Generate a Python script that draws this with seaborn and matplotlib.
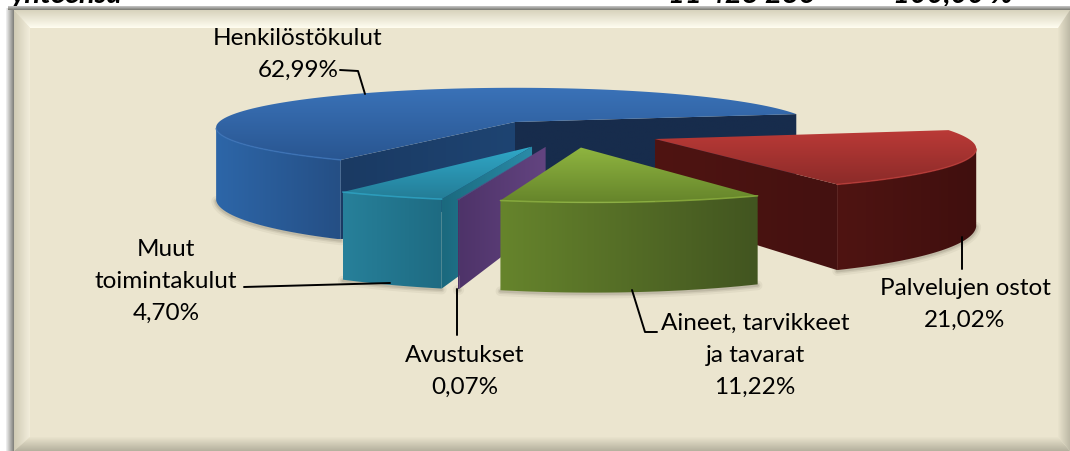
import numpy as np
import seaborn as sns
import matplotlib.pyplot as plt
from matplotlib.patches import Polygon

# data
categories = ['Henkilöstökulut', 'Palvelujen ostot', 'Aineet, tarvikkeet\nja tavarat', 'Avustukset', 'Muut\ntoimintakulut']
shares = [62.99, 21.02, 11.22, 0.07, 4.70]

# explode offsets on the pie plane (radius units)
explode = [(0, 0), (0.445, -0.411), (0.204, -0.60), (0.095, -0.585), (0.0529, -0.58)]
top_cols = [('#3a72b8', '#295691'), ('#bb3a37', '#8c2b29'), ('#8fb540', '#66852b'), ('#5f427f', '#5f427f'), ('#30a8c8', '#247d97')]
side_cols = [('#2d66a8', '#254f85'), ('#4f1412', '#400f0e'), ('#66842c', '#425520'), ('#4c3266', '#4c3266'), ('#27809a', '#1e6b82')]
wall_begin = [('#1a3a63', '#1e4472'), ('#4f1412', '#441110'), ('#66842c', '#66842c'), ('#4e3369', '#634480'), ('#1b697e', '#2a8ba8')]
wall_end = [('#172c4c', '#172c4c'), ('#4f1412', '#441110'), ('#66842c', '#66842c'), ('#4e3369', '#634480'), ('#1b697e', '#2a8ba8')]

label_pos = [(298, 28), (965, 278), (755, 313), (465, 345), (166, 239)]
leaders = [([340, 358, 365], [71, 72, 95]), ([962, 962], [238, 270]), ([632, 645, 657], [291, 333, 333]),
           ([457, 457], [290, 336]), ([244, 390], [288, 284])]

CX, CY, R, K, P, H = 515, 123, 296, 39, 0.14, 70
START = 238.8

def project(u, v):
    s = 1 / (1 + P * v)
    return CX + R * u * s, CY - K * v * s, H * s

def gfill(ax, xs, ys, c1, c2, z, horizontal=False):
    xs, ys = np.asarray(xs), np.asarray(ys)
    pal = np.array(sns.blend_palette([c1, c2], 64))[:, :3]
    img = pal[None, :, :] if horizontal else pal[:, None, :]
    im = ax.imshow(img, extent=(xs.min(), xs.max(), ys.max(), ys.min()), aspect='auto', zorder=z, interpolation='bilinear')
    poly = Polygon(np.c_[xs, ys], closed=True, transform=ax.transData, fc='none', ec='none')
    ax.add_patch(poly)
    im.set_clip_path(poly)

def draw_slice(ax, i, a0, a1, z):
    t = np.radians(np.linspace(a0, a1, 120))
    u0, v0 = explode[i]
    ax0, ay0, ah0 = project(u0, v0)
    xr, yr, hr = project(np.cos(t) + u0, np.sin(t) + v0)
    # clockwise along the near rim x goes left
    front = np.gradient(xr) < 0
    # soft shadow on the ground
    for w, al in [(7, 0.08), (4, 0.12), (2, 0.18)]:
        ax.plot(xr[front], (yr + hr)[front] + 1, color='#6d6654', lw=w, alpha=al, zorder=z, solid_capstyle='round')
    # walls to the centre, only those facing the viewer
    walls = []
    if np.cos(np.radians(a0)) < 0:
        walls.append((0, wall_begin[i]))
    if np.cos(np.radians(a1)) > 0:
        walls.append((-1, wall_end[i]))
    for j, c in walls:
        wx = [ax0, xr[j], xr[j], ax0]
        wy = [ay0, yr[j], yr[j] + hr[j], ay0 + ah0]
        gfill(ax, wx, wy, c[0], c[1], z + 0.1, horizontal=True)
    # outer side
    if front.any():
        sx = np.r_[xr[front], xr[front][::-1]]
        sy = np.r_[yr[front], (yr + hr)[front][::-1]]
        gfill(ax, sx, sy, side_cols[i][0], side_cols[i][1], z + 0.3, horizontal=True)
    # top
    gfill(ax, np.r_[ax0, xr], np.r_[ay0, yr], top_cols[i][0], top_cols[i][1], z + 0.4)
    if front.any():
        ax.plot(xr[front], yr[front], color=top_cols[i][0], lw=1.1, alpha=0.8, zorder=z + 0.5)

sns.set_theme(style='white')
plt.rcParams['font.family'] = ['Lato', 'DejaVu Sans']

fig = plt.figure(figsize=(10.7, 4.52), dpi=100, facecolor='white')
ax = fig.add_axes([0, 0, 1, 1])
ax.axis('off')

# clipped table row above the panel
for x, s in [(10, 'yhteensä'), (668, '11 428 286'), (893, '100,00 %')]:
    ax.text(x, 3, s, fontsize=21, fontweight='bold', style='italic', color='black', va='baseline', zorder=0.05)

# panel with shadow and bevel
W, Hp = 1070, 452
gfill(ax, [6, 14, 14, 6], [9, 9, 452, 452], '#f4f4f4', '#7d7d78', 0.1, horizontal=True)
gfill(ax, [8, 1070, 1070, 8], [7, 7, 11, 11], '#c8c8c8', '#777770', 0.2)
ax.add_patch(Polygon([(14, 11), (1070, 11), (1070, 452), (14, 452)], fc='#ebe5cf', ec='none', zorder=0.3))
gfill(ax, [14, 1070, 1060, 30], [11, 11, 29, 29], '#d8d3bd', '#fffdf0', 0.4)
gfill(ax, [14, 30, 30, 14], [11, 29, 438, 452], '#cfcab4', '#f2eddb', 0.4, horizontal=True)
gfill(ax, [30, 1058, 1070, 14], [438, 438, 452, 452], '#e9e3cd', '#b5b19e', 0.4)
gfill(ax, [1058, 1070, 1070, 1058], [29, 11, 452, 438], '#e9e3cd', '#bdb9a6', 0.4, horizontal=True)

# pie, angles run clockwise from START
ends = START - np.cumsum(np.array(shares) / sum(shares) * 360)
begins = np.r_[START, ends[:-1]]
for i, z in [(0, 1), (1, 2), (4, 3), (3, 4), (2, 5)]:
    draw_slice(ax, i, begins[i], ends[i], z)

# labels and leader lines
for name, share, pos, (lx, ly) in zip(categories, shares, label_pos, leaders):
    pct = ('%.2f%%' % share).replace('.', ',')
    ax.text(pos[0], pos[1], name + '\n' + pct, ha='center', va='top', fontsize=17.5,
            color='black', linespacing=1.65, zorder=10)
    sns.lineplot(x=lx, y=ly, ax=ax, color='black', lw=1.4, sort=False, estimator=None, zorder=10, legend=False)

ax.set_xlim(0, W)
ax.set_ylim(Hp, 0)
fig.savefig('out.png', dpi=100)
